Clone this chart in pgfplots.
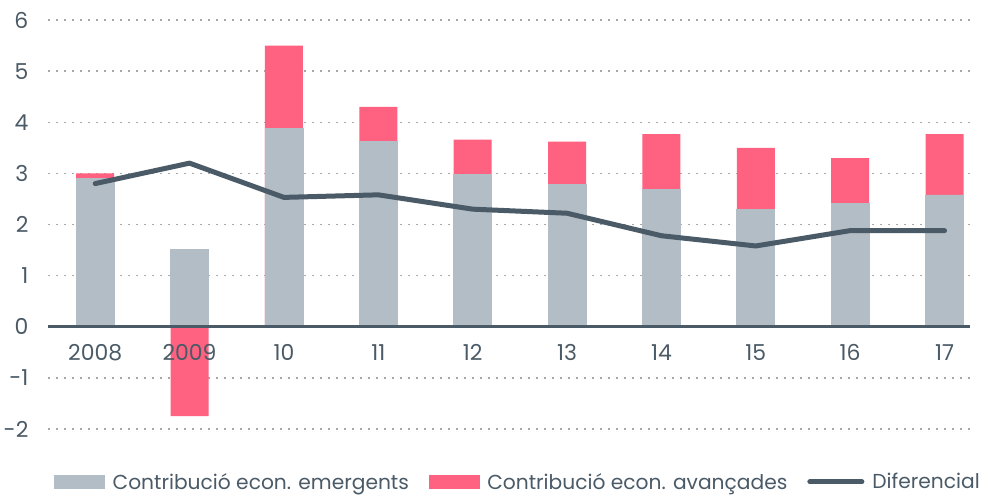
\documentclass[border=0pt]{standalone}
\usepackage{fontspec}
\setmainfont{Poppins}
\usepackage{pgfplots}
\pgfplotsset{compat=1.18}
\usepackage{pgfplotstable}
\definecolor{emerg}{HTML}{B3BDC6}
\definecolor{avanc}{HTML}{FF6180}
\definecolor{dark}{HTML}{4A5A66}
\definecolor{gridc}{HTML}{A8A8A8}

% tick labels above the bars, grid below them
\pgfplotsset{layers/labelsontop/.define layer set={
    axis background,axis grid,axis ticks,axis lines,pre main,main,axis tick labels,axis descriptions,axis foreground}{
    grid style={/pgfplots/on layer=axis grid},
    tick style={/pgfplots/on layer=axis ticks},
    axis line style={/pgfplots/on layer=axis lines},
    ticklabel style={/pgfplots/on layer=axis tick labels},
    legend style={/pgfplots/on layer=axis descriptions},
}}

% x: position, e: contribucio emergents, a: contribucio avancades, d: diferencial
\pgfplotstableread{
x e a d
0 2.90 0.10 2.80
1 1.52 -1.75 3.20
2 3.88 1.62 2.53
3 3.62 0.68 2.58
4 2.98 0.68 2.30
5 2.78 0.84 2.22
6 2.68 1.09 1.78
7 2.30 1.20 1.58
8 2.42 0.88 1.88
9 2.58 1.19 1.88
}\data

\begin{document}
\begin{tikzpicture}
\begin{axis}[
    name=ax,
    set layers=labelsontop,
    width=922bp, height=409bp, scale only axis,
    xmin=-0.5, xmax=9.27,
    ymin=-2, ymax=6,
    axis x line=middle, axis y line=left,
    hide obscured y ticks=false,
    axis line style={draw=none, -},
    tick style={draw=none},
    xtick={0,...,9},
    xticklabels={2008,2009,10,11,12,13,14,15,16,17},
    ytick={-2,-1,1,2,3,4,5,6},
    extra y ticks={0},
    extra y tick style={ymajorgrids=false},
    ymajorgrids,
    grid style={gridc, line width=1.4bp, dash pattern=on 2.5bp off 5.5bp},
    /pgf/number format/assume math mode=true,
    ticklabel style={font=\fontsize{22}{25}\selectfont, text=dark},
    yticklabel style={xshift=-14bp},
    xticklabel style={yshift=-12bp},
    legend style={at={(0.5,0)}, anchor=center, xshift=9bp, yshift=-53bp, draw=none,
        font=\fontsize{20.3}{23}\selectfont, text=dark,
        /tikz/every odd column/.append style={column sep=6bp},
        /tikz/every even column/.append style={column sep=18bp}},
    legend columns=3,
    legend cell align=left,
]
% pink bars from 0 up to the total (or down to the negative value)
\addplot[ybar, bar width=38bp, fill=avanc, draw=none, forget plot]
    table[x=x, y expr={\thisrow{a}<0 ? \thisrow{a} : \thisrow{e}+\thisrow{a}}] {\data};
\addplot[ybar, bar width=38bp, fill=emerg, draw=emerg, line width=0.6bp, forget plot]
    table[x=x, y=e] {\data};
\addplot[dark, line width=3bp, forget plot] coordinates {(-0.5,0) (9.27,0)};
\addplot[dark, line width=5bp, line cap=round, line join=round, forget plot]
    table[x=x, y=d] {\data};

\addlegendimage{legend image code/.code={\fill[emerg] (0bp,-6.5bp) rectangle (50bp,6.5bp);}}
\addlegendentry{Contribució econ. emergents}
\addlegendimage{legend image code/.code={\fill[avanc] (0bp,-6.5bp) rectangle (50bp,6.5bp);}}
\addlegendentry{Contribució econ. avançades}
\addlegendimage{legend image code/.code={\draw[dark, line width=5bp, line cap=round] (2bp,0bp) -- (54bp,0bp);}}
\addlegendentry{Diferencial}
\end{axis}
\pgfresetboundingbox
\path ([xshift=-48bp, yshift=-66bp]ax.south west) rectangle ([xshift=14bp, yshift=20bp]ax.north east);
\end{tikzpicture}
\end{document}
